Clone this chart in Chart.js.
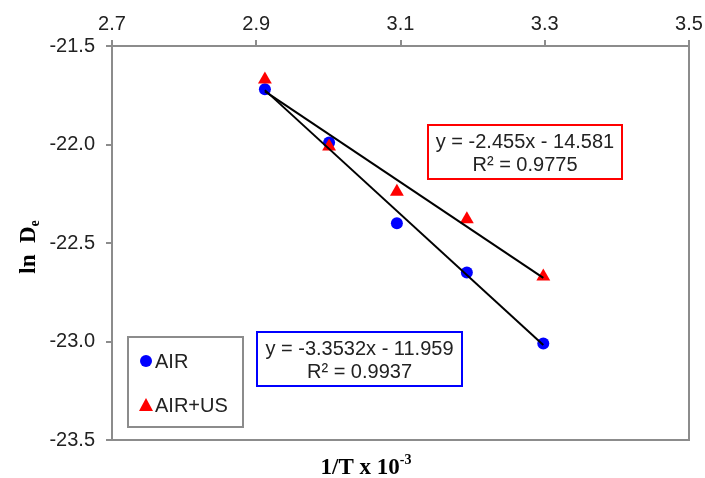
<!DOCTYPE html>
<html>
<head>
<meta charset="utf-8">
<script src="https://cdn.jsdelivr.net/npm/chart.js@4"></script>
<style>
  html, body { margin: 0; padding: 0; background: #fff; }
  #wrap { width: 705px; height: 478px; }
</style>
</head>
<body>
<div id="wrap"><canvas id="myChart" width="705" height="478"></canvas></div>
<script>
// values (x = 1/T x 10^-3, y = ln De)
const airX = [2.912, 3.001, 3.095, 3.192, 3.298];
const airY = [-21.72, -21.99, -22.40, -22.65, -23.01];
const usX = [2.912, 3.001, 3.095, 3.192, 3.298];
const usY = [-21.67, -22.01, -22.24, -22.38, -22.67];

// trendline end points
const airFitX = [2.912, 3.298];
const airFitY = [-21.724, -23.018];
const usFitX = [2.912, 3.298];
const usFitY = [-21.73, -22.677];

const xTicks = [2.7, 2.9, 3.1, 3.3, 3.5];
const yTicks = [-21.5, -22.0, -22.5, -23.0, -23.5];

const airEq = ["y = -3.3532x - 11.959", "R\u00b2 = 0.9937"];
const usEq = ["y = -2.455x - 14.581", "R\u00b2 = 0.9775"];

const toPts = (xs, ys) => xs.map((x, i) => ({x: x, y: ys[i]}));

const FONT = "'Liberation Sans', Arial, sans-serif";
const SERIF = "'Liberation Serif', 'Times New Roman', serif";
const GREY = '#8c8c8c';

// extras: right/bottom frame, equation boxes, legend, axis titles
const extras = {
    id: 'extras',
    afterDraw(chart) {
        const ctx = chart.ctx;
        const a = chart.chartArea;
        ctx.save();
        ctx.strokeStyle = GREY;
        ctx.lineWidth = 2;
        ctx.beginPath();
        ctx.moveTo(a.left, a.bottom);
        ctx.lineTo(a.right, a.bottom);
        ctx.lineTo(a.right, a.top);
        ctx.stroke();

        // equation boxes
        const box = (x, y, w, h, col, lines) => {
            ctx.fillStyle = '#fff';
            ctx.fillRect(x, y, w, h);
            ctx.strokeStyle = col;
            ctx.lineWidth = 2;
            ctx.strokeRect(x, y, w, h);
            ctx.fillStyle = '#222';
            ctx.font = '20px ' + FONT;
            ctx.textAlign = 'center';
            ctx.textBaseline = 'middle';
            ctx.fillText(lines[0], x + w / 2, y + 17);
            ctx.fillText(lines[1], x + w / 2, y + 40);
        };
        box(428, 125, 194, 54, '#ff0000', usEq);
        box(257, 332, 205, 54, '#0000ff', airEq);

        // legend
        ctx.strokeStyle = GREY;
        ctx.lineWidth = 2;
        ctx.strokeRect(128, 337, 115, 90);
        ctx.fillStyle = '#0000ff';
        ctx.beginPath();
        ctx.arc(146, 361, 6, 0, Math.PI * 2);
        ctx.fill();
        ctx.fillStyle = '#ff0000';
        ctx.beginPath();
        ctx.moveTo(146, 398);
        ctx.lineTo(153, 411);
        ctx.lineTo(139, 411);
        ctx.closePath();
        ctx.fill();
        ctx.fillStyle = '#222';
        ctx.font = '20px ' + FONT;
        ctx.textAlign = 'left';
        ctx.textBaseline = 'middle';
        ctx.fillText('AIR', 155, 362);
        ctx.fillText('AIR+US', 155, 406);

        // x title
        ctx.fillStyle = '#000';
        ctx.font = 'bold 23px ' + SERIF;
        ctx.textBaseline = 'alphabetic';
        const t1 = '1/T x 10';
        const w1 = ctx.measureText(t1).width;
        ctx.font = 'bold 14px ' + SERIF;
        const w2 = ctx.measureText('-3').width;
        let sx = 366 - (w1 + w2) / 2;
        ctx.font = 'bold 23px ' + SERIF;
        ctx.fillText(t1, sx, 474);
        ctx.font = 'bold 14px ' + SERIF;
        ctx.fillText('-3', sx + w1, 464);

        // y title
        ctx.translate(35, 247);
        ctx.rotate(-Math.PI / 2);
        ctx.font = 'bold 23px ' + SERIF;
        const y1 = 'ln  D';
        const yw1 = ctx.measureText(y1).width;
        ctx.font = 'bold 14px ' + SERIF;
        const yw2 = ctx.measureText('e').width;
        const st = -(yw1 + yw2) / 2;
        ctx.font = 'bold 23px ' + SERIF;
        ctx.fillText(y1, st, 0);
        ctx.font = 'bold 14px ' + SERIF;
        ctx.fillText('e', st + yw1, 4);
        ctx.restore();
    }
};

const ctx = document.getElementById('myChart').getContext('2d');
const myChart = new Chart(ctx, {
    type: 'scatter',
    data: {
        datasets: [{
            label: 'AIR fit',
            data: toPts(airFitX, airFitY),
            showLine: true,
            borderColor: '#000',
            borderWidth: 2,
            pointRadius: 0,
            order: 0
        }, {
            label: 'AIR+US fit',
            data: toPts(usFitX, usFitY),
            showLine: true,
            borderColor: '#000',
            borderWidth: 2,
            pointRadius: 0,
            order: 0
        }, {
            label: 'AIR',
            data: toPts(airX, airY),
            pointStyle: 'circle',
            pointRadius: 6,
            backgroundColor: '#0000ff',
            borderWidth: 0,
            order: 2
        }, {
            label: 'AIR+US',
            data: toPts(usX, usY),
            pointStyle: 'triangle',
            pointRadius: 8,
            backgroundColor: '#ff0000',
            borderWidth: 0,
            order: 1
        }]
    },
    options: {
        responsive: false,
        animation: false,
        layout: { padding: { left: 0, top: 0, right: 16, bottom: 38 } },
        plugins: { legend: { display: false }, tooltip: { enabled: false } },
        scales: {
            x: {
                type: 'linear',
                position: 'top',
                min: 2.7,
                max: 3.5,
                afterBuildTicks: s => { s.ticks = xTicks.map(v => ({value: v})); },
                afterFit: s => { s.height = 46; s.paddingLeft = 0; s.paddingRight = 0; },
                ticks: {
                    callback: v => v.toFixed(1),
                    color: '#222',
                    font: { family: FONT, size: 20 },
                    padding: 4,
                    maxRotation: 0
                },
                grid: { drawOnChartArea: false, tickLength: 6, color: GREY, lineWidth: 2 },
                border: { color: GREY, width: 2 }
            },
            y: {
                type: 'linear',
                min: -23.5,
                max: -21.5,
                afterBuildTicks: s => { s.ticks = yTicks.map(v => ({value: v})); },
                afterFit: s => { s.width = 112; s.paddingTop = 0; s.paddingBottom = 0; },
                ticks: {
                    callback: v => v.toFixed(1),
                    color: '#222',
                    font: { family: FONT, size: 20 },
                    padding: 11
                },
                grid: { drawOnChartArea: false, tickLength: 6, color: GREY, lineWidth: 2 },
                border: { color: GREY, width: 2 }
            }
        }
    },
    plugins: [extras]
});
</script>
</body>
</html>
